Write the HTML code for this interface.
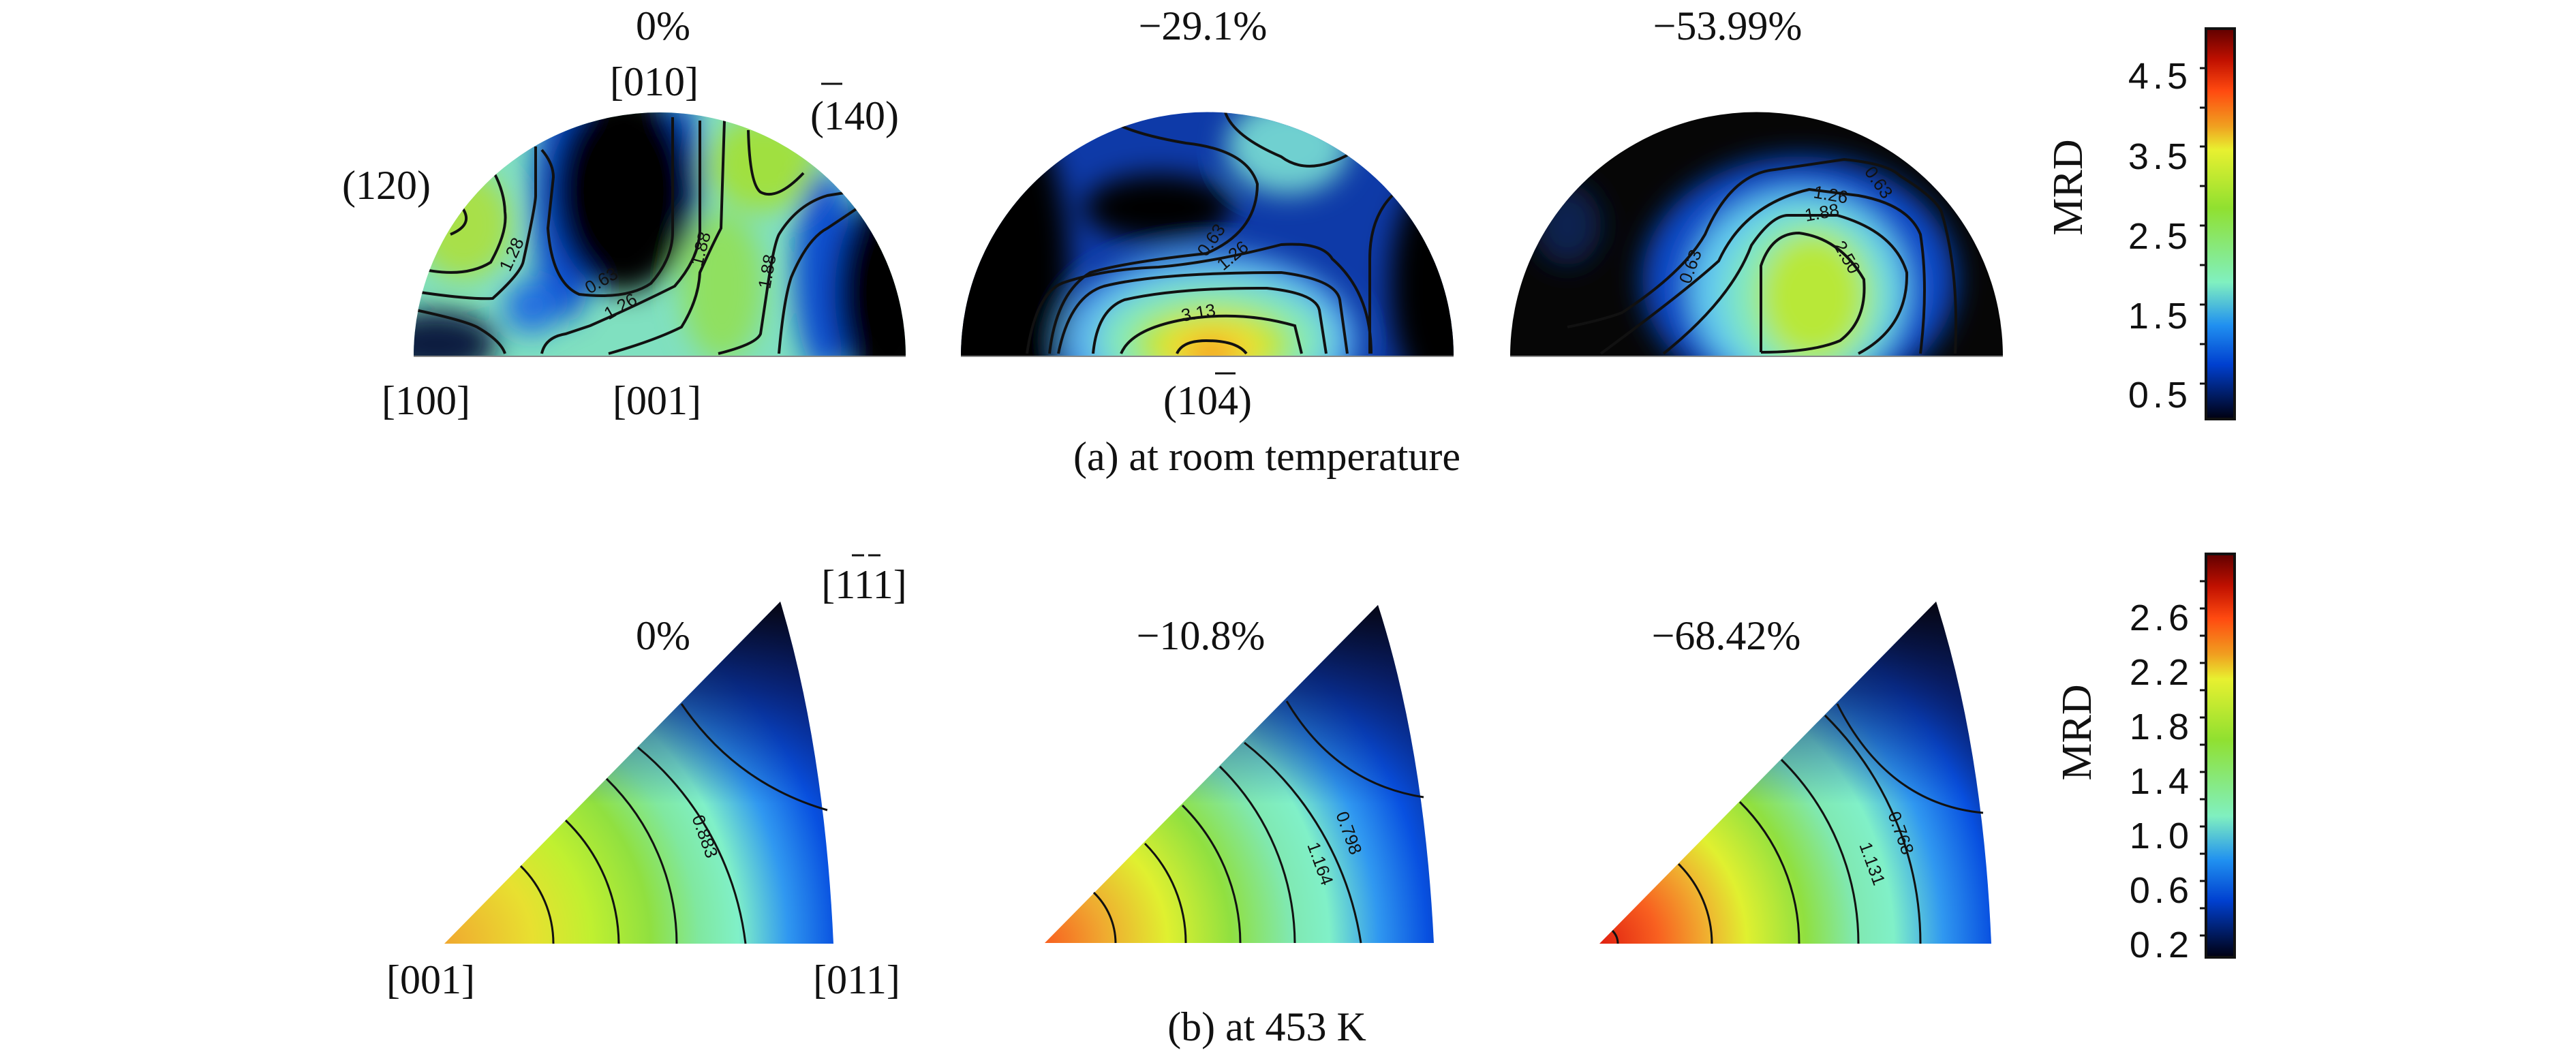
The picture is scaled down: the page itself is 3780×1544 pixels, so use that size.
<!DOCTYPE html>
<html><head><meta charset="utf-8"><style>
html,body{margin:0;padding:0;background:#fff;}
svg{display:block}
.t{font-family:"Liberation Serif",serif;fill:#111;font-size:60px}
.c{font-family:"Liberation Sans",sans-serif;fill:#111;font-size:26px}
.k{font-family:"Liberation Sans",sans-serif;fill:#111;font-size:54px;letter-spacing:6px}
.ln{fill:none;stroke:#111;stroke-width:4}
</style></head><body>
<svg width="3780" height="1544" viewBox="0 0 3780 1544" xmlns="http://www.w3.org/2000/svg">
<defs>
<filter id="b" x="-50%" y="-50%" width="200%" height="200%"><feGaussianBlur stdDeviation="20"/></filter>
<clipPath id="s1"><path d="M607,523 A361,358 0 0 1 1329,523 Z"/></clipPath>
<clipPath id="s2"><path d="M1410,523 A361,358 0 0 1 2133,523 Z"/></clipPath>
<clipPath id="s3"><path d="M2216,523 A361,358 0 0 1 2939,523 Z"/></clipPath>
<linearGradient id="cb" x1="0" y1="0" x2="0" y2="1">
<stop offset="0" stop-color="#600000"/><stop offset=".08" stop-color="#c01000"/><stop offset=".16" stop-color="#ff4a10"/><stop offset=".25" stop-color="#f0a020"/><stop offset=".31" stop-color="#e8f030"/><stop offset=".46" stop-color="#90e030"/><stop offset=".65" stop-color="#80f0c0"/><stop offset=".76" stop-color="#2090f0"/><stop offset=".86" stop-color="#0040d0"/><stop offset="1" stop-color="#000010"/>
</linearGradient>
<linearGradient id="ap" gradientUnits="userSpaceOnUse" x1="0" y1="880" x2="0" y2="1180">
<stop offset="0" stop-color="#050510" stop-opacity="1"/><stop offset=".45" stop-color="#081a60" stop-opacity=".7"/><stop offset="1" stop-color="#0830a0" stop-opacity="0"/>
</linearGradient>
<radialGradient id="r1" gradientUnits="userSpaceOnUse" cx="652" cy="1385" r="720">
<stop offset="0" stop-color="#f0a830"/><stop offset=".18" stop-color="#e8e030"/><stop offset=".3" stop-color="#c0f030"/><stop offset=".42" stop-color="#90e040"/><stop offset=".52" stop-color="#80e8a0"/><stop offset=".6" stop-color="#80f0c8"/><stop offset=".7" stop-color="#3098f0"/><stop offset=".8" stop-color="#0850e0"/><stop offset=".9" stop-color="#0830a0"/><stop offset="1" stop-color="#081040"/>
</radialGradient>
<radialGradient id="r2" gradientUnits="userSpaceOnUse" cx="1533" cy="1384" r="720">
<stop offset="0" stop-color="#f86020"/><stop offset=".12" stop-color="#f0a830"/><stop offset=".25" stop-color="#e0f030"/><stop offset=".38" stop-color="#90e040"/><stop offset=".5" stop-color="#80e8b0"/><stop offset=".58" stop-color="#80f0c8"/><stop offset=".68" stop-color="#3098f0"/><stop offset=".78" stop-color="#0850e0"/><stop offset=".88" stop-color="#082e90"/><stop offset="1" stop-color="#050a30"/>
</radialGradient>
<radialGradient id="r3" gradientUnits="userSpaceOnUse" cx="2347" cy="1385" r="720">
<stop offset="0" stop-color="#e02010"/><stop offset=".12" stop-color="#f86020"/><stop offset=".22" stop-color="#f0b030"/><stop offset=".3" stop-color="#e0f030"/><stop offset=".42" stop-color="#90e040"/><stop offset=".52" stop-color="#80e8b0"/><stop offset=".6" stop-color="#80f0c8"/><stop offset=".7" stop-color="#3098f0"/><stop offset=".8" stop-color="#0850e0"/><stop offset=".88" stop-color="#082880"/><stop offset="1" stop-color="#080808"/>
</radialGradient>
</defs>

<!-- Panel 1 -->
<g clip-path="url(#s1)">
<rect x="600" y="160" width="740" height="370" fill="#80e0c0"/>
<g filter="url(#b)">
<ellipse cx="680" cy="330" rx="70" ry="80" fill="#a8e048"/>
<ellipse cx="1120" cy="240" rx="80" ry="70" fill="#a0e040"/>
<ellipse cx="1060" cy="420" rx="60" ry="110" fill="#90e060"/>
<ellipse cx="830" cy="300" rx="50" ry="170" fill="#1050d0"/>
<ellipse cx="1000" cy="250" rx="30" ry="110" fill="#1050d0"/>
<ellipse cx="915" cy="280" rx="105" ry="150" fill="#050505"/>
<ellipse cx="1210" cy="400" rx="45" ry="150" fill="#1050d0"/>
<ellipse cx="1305" cy="430" rx="80" ry="150" fill="#050505"/>
<ellipse cx="640" cy="505" rx="90" ry="50" fill="#0a1a40"/>
<ellipse cx="780" cy="450" rx="40" ry="40" fill="#2070e0"/>
</g>
<path class="ln" d="M679,306 Q695,330 661,344"/>
<path class="ln" d="M610,393 Q680,410 720,385 Q745,340 741,311 Q740,280 723,250"/>
<path class="ln" d="M610,428 Q690,440 723,438 Q765,400 768,383 Q786,300 786,287 L786,215"/>
<path class="ln" d="M610,455 Q680,470 700,480 Q735,500 741,519"/>
<path class="ln" d="M795,220 Q812,240 812,260 L804,335 Q810,415 850,432 Q920,440 955,416 Q987,380 987,340 L987,172"/>
<path class="ln" d="M795,519 Q800,495 830,490 L866,478 Q930,450 990,420 Q1025,380 1027,340 L1027,177"/>
<path class="ln" d="M893,519 Q960,500 1000,480 Q1025,440 1027,400 Q1045,360 1058,335 L1063,177"/>
<path class="ln" d="M1054,519 Q1110,505 1116,490 Q1122,450 1125,430 Q1135,360 1143,344 Q1170,300 1214,287 L1245,282"/>
<path class="ln" d="M1098,191 Q1100,270 1116,282 Q1140,295 1179,254"/>
<path class="ln" d="M1143,519 Q1150,440 1161,407 Q1185,350 1214,335 L1262,303"/>
<text class="c" transform="translate(748,400) rotate(-65)">1.28</text>
<text class="c" transform="translate(865,432) rotate(-30)">0.63</text>
<text class="c" transform="translate(893,470) rotate(-30)">1.26</text>
<text class="c" transform="translate(1030,392) rotate(-75)">1.88</text>
<text class="c" transform="translate(1130,425) rotate(-80)">1.88</text>
</g>

<!-- Panel 2 -->
<g clip-path="url(#s2)">
<rect x="1400" y="160" width="740" height="370" fill="#0e3aa8"/>
<g filter="url(#b)">
<ellipse cx="1890" cy="215" rx="90" ry="70" fill="#70d0d0"/>
<ellipse cx="1460" cy="400" rx="110" ry="260" fill="#050505"/>
<ellipse cx="1700" cy="305" rx="110" ry="50" fill="#050505"/>
<ellipse cx="2115" cy="420" rx="75" ry="170" fill="#050505"/>
<ellipse cx="1775" cy="500" rx="215" ry="130" fill="#5ab0f0"/>
<ellipse cx="1780" cy="500" rx="170" ry="90" fill="#80e8c0"/>
<ellipse cx="1780" cy="505" rx="120" ry="60" fill="#b0e840"/>
<ellipse cx="1780" cy="510" rx="80" ry="40" fill="#f0e030"/>
<ellipse cx="1778" cy="520" rx="40" ry="25" fill="#f8a020"/>
</g>
<path class="ln" d="M1727,519 Q1735,500 1770,500 Q1815,500 1829,519"/>
<path class="ln" d="M1645,519 Q1660,483 1737,469 Q1820,455 1900,478 L1910,519"/>
<path class="ln" d="M1604,519 Q1610,455 1650,440 Q1730,422 1859,423 Q1930,430 1936,455 L1946,519"/>
<path class="ln" d="M1553,519 Q1570,435 1620,420 Q1700,400 1880,400 Q1960,410 1966,440 L1977,519"/>
<path class="ln" d="M1507,519 Q1520,430 1560,415 Q1620,395 1700,392 Q1780,385 1880,359 Q1940,355 1955,380 Q2012,430 2012,519"/>
<path class="ln" d="M1540,519 Q1550,430 1600,400 Q1650,385 1770,372 Q1845,340 1845,270 Q1830,220 1740,210 Q1680,200 1645,185"/>
<path class="ln" d="M1798,165 Q1810,200 1880,230 Q1920,260 1982,225"/>
<path class="ln" d="M2043,287 Q2010,320 2010,380 L2010,519"/>
<text class="c" transform="translate(1770,378) rotate(-55)">0.63</text>
<text class="c" transform="translate(1795,398) rotate(-40)">1.26</text>
<text class="c" transform="translate(1735,472) rotate(-10)">3.13</text>
</g>

<!-- Panel 3 -->
<g clip-path="url(#s3)">
<rect x="2210" y="160" width="740" height="370" fill="#060606"/>
<g filter="url(#b)">
<ellipse cx="2640" cy="410" rx="230" ry="180" fill="#1048c8"/>
<ellipse cx="2640" cy="425" rx="160" ry="145" fill="#60c8f0"/>
<ellipse cx="2650" cy="435" rx="120" ry="125" fill="#80e8c0"/>
<ellipse cx="2660" cy="435" rx="80" ry="95" fill="#b8e838"/>
<ellipse cx="2300" cy="330" rx="50" ry="60" fill="#0a2050"/>
</g>
<path class="ln" d="M2584,517 L2584,390 Q2600,342 2640,342 Q2700,350 2735,410 Q2740,470 2700,500 Q2660,517 2584,517"/>
<path class="ln" d="M2441,519 Q2540,440 2570,360 Q2600,316 2624,316 L2696,316 Q2780,340 2798,400 Q2800,480 2727,519"/>
<path class="ln" d="M2349,519 Q2470,430 2522,383 Q2560,300 2655,278 L2727,287 Q2800,300 2818,344 Q2830,420 2818,519"/>
<path class="ln" d="M2300,480 Q2350,470 2380,459 Q2470,400 2502,344 Q2540,255 2604,249 L2706,234 Q2770,240 2788,258 Q2840,290 2849,311 Q2875,400 2869,519"/>
<text class="c" transform="translate(2735,252) rotate(55)">0.63</text>
<text class="c" transform="translate(2660,290) rotate(10)">1.26</text>
<text class="c" transform="translate(2650,325) rotate(-10)">1.88</text>
<text class="c" transform="translate(2690,360) rotate(60)">2.50</text>
<text class="c" transform="translate(2480,418) rotate(-70)">0.63</text>
</g>
<line x1="607" y1="523" x2="1329" y2="523" stroke="#888" stroke-width="2"/>
<line x1="1410" y1="523" x2="2133" y2="523" stroke="#888" stroke-width="2"/>
<line x1="2216" y1="523" x2="2939" y2="523" stroke="#888" stroke-width="2"/>

<!-- Triangles -->
<path d="M652,1385 L1145,883 Q1210,1100 1223,1385 Z" fill="url(#r1)"/>
<path d="M652,1385 L1145,883 Q1210,1100 1223,1385 Z" fill="url(#ap)"/>
<path class="ln" style="stroke-width:3" d="M812,1385 A160,160 0 0 0 764,1271"/>
<path class="ln" style="stroke-width:3" d="M908,1385 A256,256 0 0 0 830,1204"/>
<path class="ln" style="stroke-width:3" d="M993,1385 A341,341 0 0 0 890,1143"/>
<path class="ln" style="stroke-width:3" d="M1094,1385 A442,442 0 0 0 936,1097"/>
<path class="ln" style="stroke-width:3" d="M1000,1033 Q1080,1150 1214,1189"/>
<text class="c" transform="translate(1015,1200) rotate(70)">0.883</text>

<path d="M1533,1384 L2022,888 Q2090,1100 2104,1384 Z" fill="url(#r2)"/>
<path d="M1533,1384 L2022,888 Q2090,1100 2104,1384 Z" fill="url(#ap)"/>
<path class="ln" style="stroke-width:3" d="M1637,1384 A104,104 0 0 0 1605,1310"/>
<path class="ln" style="stroke-width:3" d="M1740,1384 A207,207 0 0 0 1680,1238"/>
<path class="ln" style="stroke-width:3" d="M1820,1384 A287,287 0 0 0 1735,1182"/>
<path class="ln" style="stroke-width:3" d="M1900,1384 A367,367 0 0 0 1790,1125"/>
<path class="ln" style="stroke-width:3" d="M1997,1384 A464,464 0 0 0 1826,1090"/>
<path class="ln" style="stroke-width:3" d="M1888,1029 Q1960,1150 2089,1170"/>
<text class="c" transform="translate(1918,1240) rotate(70)">1.164</text>
<text class="c" transform="translate(1960,1195) rotate(70)">0.798</text>

<path d="M2347,1385 L2841,883 Q2910,1100 2922,1385 Z" fill="url(#r3)"/>
<path d="M2347,1385 L2841,883 Q2910,1100 2922,1385 Z" fill="url(#ap)"/>
<path class="ln" style="stroke-width:3" d="M2374,1385 A27,27 0 0 0 2366,1366"/>
<path class="ln" style="stroke-width:3" d="M2512,1385 A165,165 0 0 0 2463,1268"/>
<path class="ln" style="stroke-width:3" d="M2640,1385 A293,293 0 0 0 2553,1177"/>
<path class="ln" style="stroke-width:3" d="M2727,1385 A380,380 0 0 0 2614,1115"/>
<path class="ln" style="stroke-width:3" d="M2818,1385 A471,471 0 0 0 2678,1050"/>
<path class="ln" style="stroke-width:3" d="M2696,1033 Q2770,1180 2910,1193"/>
<text class="c" transform="translate(2728,1240) rotate(70)">1.131</text>
<text class="c" transform="translate(2770,1195) rotate(70)">0.768</text>

<!-- Labels -->
<text class="t" x="973" y="58" text-anchor="middle">0%</text>
<text class="t" x="1765" y="58" text-anchor="middle">−29.1%</text>
<text class="t" x="2535" y="58" text-anchor="middle">−53.99%</text>
<text class="t" x="960" y="140" text-anchor="middle">[010]</text>
<text class="t" x="1254" y="190" text-anchor="middle">(140)</text>
<line x1="1205" y1="123" x2="1236" y2="123" stroke="#111" stroke-width="3"/>
<text class="t" x="567" y="292" text-anchor="middle">(120)</text>
<text class="t" x="625" y="608" text-anchor="middle">[100]</text>
<text class="t" x="964" y="608" text-anchor="middle">[001]</text>
<text class="t" x="1772" y="608" text-anchor="middle">(104)</text>
<line x1="1783" y1="548" x2="1813" y2="548" stroke="#111" stroke-width="3"/>
<text class="t" x="1859" y="690" text-anchor="middle">(a) at room temperature</text>

<text class="t" x="973" y="953" text-anchor="middle">0%</text>
<text class="t" x="1762" y="953" text-anchor="middle">−10.8%</text>
<text class="t" x="2533" y="953" text-anchor="middle">−68.42%</text>
<text class="t" x="1268" y="878" text-anchor="middle">[111]</text>
<line x1="1250" y1="815" x2="1268" y2="815" stroke="#111" stroke-width="3"/>
<line x1="1274" y1="815" x2="1292" y2="815" stroke="#111" stroke-width="3"/>
<text class="t" x="632" y="1458" text-anchor="middle">[001]</text>
<text class="t" x="1257" y="1458" text-anchor="middle">[011]</text>
<text class="t" x="1859" y="1527" text-anchor="middle">(b) at 453 K</text>

<!-- Colorbars -->
<rect x="3237" y="42" width="42" height="573" fill="url(#cb)" stroke="#111" stroke-width="4"/>
<rect x="3237" y="813" width="42" height="592" fill="url(#cb)" stroke="#111" stroke-width="4"/>
<g stroke="#111" stroke-width="3">
<line x1="3228" y1="100" x2="3237" y2="100"/><line x1="3228" y1="158" x2="3237" y2="158"/><line x1="3228" y1="215" x2="3237" y2="215"/><line x1="3228" y1="273" x2="3237" y2="273"/><line x1="3228" y1="331" x2="3237" y2="331"/><line x1="3228" y1="389" x2="3237" y2="389"/><line x1="3228" y1="447" x2="3237" y2="447"/><line x1="3228" y1="505" x2="3237" y2="505"/><line x1="3228" y1="563" x2="3237" y2="563"/>
<line x1="3228" y1="853" x2="3237" y2="853"/><line x1="3228" y1="893" x2="3237" y2="893"/><line x1="3228" y1="933" x2="3237" y2="933"/><line x1="3228" y1="973" x2="3237" y2="973"/><line x1="3228" y1="1013" x2="3237" y2="1013"/><line x1="3228" y1="1053" x2="3237" y2="1053"/><line x1="3228" y1="1093" x2="3237" y2="1093"/><line x1="3228" y1="1133" x2="3237" y2="1133"/><line x1="3228" y1="1173" x2="3237" y2="1173"/><line x1="3228" y1="1213" x2="3237" y2="1213"/><line x1="3228" y1="1253" x2="3237" y2="1253"/><line x1="3228" y1="1293" x2="3237" y2="1293"/><line x1="3228" y1="1333" x2="3237" y2="1333"/><line x1="3228" y1="1373" x2="3237" y2="1373"/>
</g>
<g class="k" text-anchor="end">
<text x="3216" y="130">4.5</text><text x="3216" y="248">3.5</text><text x="3216" y="365">2.5</text><text x="3216" y="482">1.5</text><text x="3216" y="598">0.5</text>
<text x="3218" y="925">2.6</text><text x="3218" y="1005">2.2</text><text x="3218" y="1085">1.8</text><text x="3218" y="1165">1.4</text><text x="3218" y="1245">1.0</text><text x="3218" y="1325">0.6</text><text x="3218" y="1405">0.2</text>
</g>
<text class="t" transform="translate(3055,275) rotate(-90)" text-anchor="middle" style="font-size:62px">MRD</text>
<text class="t" transform="translate(3068,1075) rotate(-90)" text-anchor="middle" style="font-size:62px">MRD</text>
</svg>
</body></html>
